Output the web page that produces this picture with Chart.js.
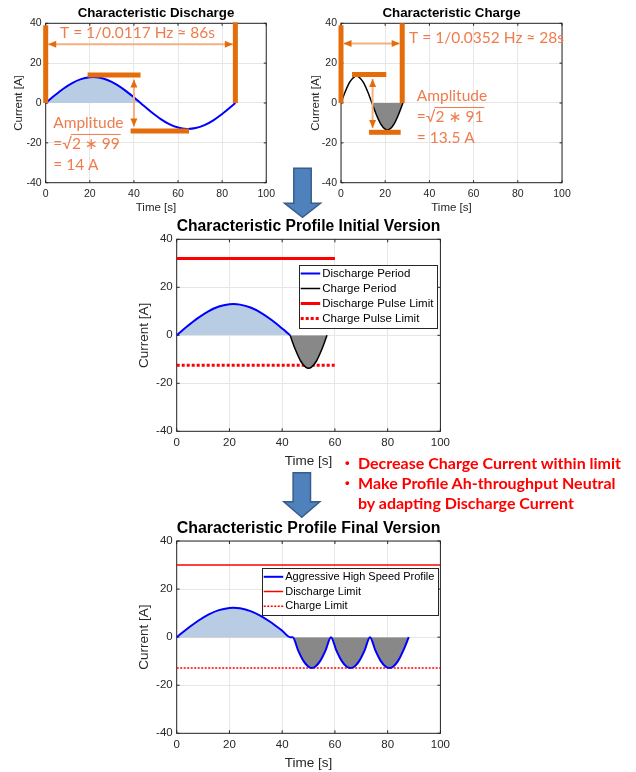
<!DOCTYPE html>
<html>
<head>
<meta charset="utf-8">
<script src="https://cdn.jsdelivr.net/npm/chart.js@4.4.1/dist/chart.umd.min.js"></script>
<style>
body{margin:0;background:#fff;}
#page{position:relative;width:636px;height:772px;overflow:hidden;background:#fff;}
canvas{position:absolute;}
#arrows{position:absolute;left:0;top:0;z-index:5;}
.note{position:absolute;left:358px;color:#ff0000;font:bold 16px Lato,"Open Sans",sans-serif;line-height:20px;white-space:nowrap;z-index:6;}
.note .dot{position:absolute;left:-13px;top:0;font:bold 13px "Liberation Sans",Arial,sans-serif;line-height:20px;}
</style>
</head>
<body>
<div id="page">
<canvas id="c1"></canvas>
<canvas id="c2"></canvas>
<canvas id="c3"></canvas>
<canvas id="c4"></canvas>
<svg id="arrows" width="636" height="772">
  <polygon points="293.8,168.3 311.2,168.3 311.2,203.3 320.5,203.3 302.5,217.3 284.5,203.3 293.8,203.3" fill="#4f81bd" stroke="#385d8a" stroke-width="1.5"/>
  <polygon points="293.1,472.7 310.5,472.7 310.5,501.7 319.8,501.7 301.8,517.3 283.8,501.7 293.1,501.7" fill="#4f81bd" stroke="#385d8a" stroke-width="1.5"/>
</svg>
<div class="note" style="top:453px"><span class="dot">•</span>Decrease Charge Current within limit</div>
<div class="note" style="top:473px"><span class="dot">•</span>Make Profile Ah-throughput Neutral</div>
<div class="note" style="top:493px">by adapting Discharge Current</div>
</div>

<script>
/* DATA */
// characteristic discharge, one full period (86 s)
const disTime = [0,4,8,12,16,20,21.5,24,28,32,36,40,43,44,48,52,56,60,64,64.5,68,72,76,80,84,86];
const disCurrent = [0,3.75,7.17,9.99,11.97,12.92,13,12.78,11.56,9.37,6.36,2.83,0,-0.95,-4.61,-7.94,-10.57,-12.3,-12.99,-13,-12.59,-11.12,-8.7,-5.52,-1.89,0];

// characteristic charge, one full period (28 s)
const chgTime = [0,2,4,6,7,8,10,12,14,16,18,20,21,22,24,26,28];
const chgCurrent = [0,5.86,10.55,13.16,13.5,13.16,10.55,5.86,0,-5.86,-10.55,-13.16,-13.5,-13.16,-10.55,-5.86,0];

// initial profile
const initDisTime = [0,4,8,12,16,20,21.5,24,28,32,36,40,43];
const initDisCurrent = [0,3.75,7.17,9.99,11.97,12.92,13,12.78,11.56,9.37,6.36,2.83,0];
const initChgTime = [43,45,47,49,50,51,53,55,57];
const initChgCurrent = [0,-5.94,-10.71,-13.36,-13.7,-13.36,-10.71,-5.94,0];
const initLimitTime = [0,60];
const initDisLimit = [32,32];
const initChgLimit = [-12.5,-12.5];

// final profile
const finalTime = [0,4,8,12,16,20,21.5,24,28,32,36,40,43,44,46,48,50,51.25,52.5,54.5,56.5,58.5,60.5,62.5,64.5,65.9,67.3,69.3,71.3,73.3,75.3,77.3,79.3,80.65,82,84,86,88];
const finalCurrent = [0,3.52,6.73,9.38,11.23,12.13,12.2,11.99,10.85,8.79,5.97,2.66,0,0,-5.37,-9.76,-12.33,-12.8,-12.33,-9.76,-5.37,0,-5.37,-9.76,-12.33,-12.8,-12.33,-9.76,-5.37,0,-5.37,-9.76,-12.33,-12.8,-12.33,-9.76,-5.37,0];
const finalLimitTime = [0,100];
const finalDisLimit = [30,30];
const finalChgLimit = [-12.8,-12.8];

const xTicks = [0,20,40,60,80,100];
const yTicks = [-40,-20,0,20,40];

/* COLORS */
const BLUE = "#0000ff", RED = "#ff0000", SHADE = "#b8cce4", GREY = "#888888";
const ORANGE = "#e46c0a", ORANGE_LIGHT = "#f4b183", ORANGE_TEXT = "#f07b4d";
const AXIS = "#262626";
const FONT = "'Liberation Sans', Arial, sans-serif";
const NOTE_FONT = "Lato, 'DejaVu Sans', sans-serif";

Chart.defaults.font.family = FONT;
Chart.defaults.color = AXIS;

/* ANNOTATIONS (data units) */
const dischargeMarks = [
  {type:"bar", x1:0, y1:0, x2:0, y2:39},
  {type:"bar", x1:86, y1:0, x2:86, y2:40.5},
  {type:"arrow", x1:0, y1:29.5, x2:86, y2:29.5},
  {type:"bar", x1:19, y1:14, x2:43, y2:14},
  {type:"bar", x1:38.5, y1:-14, x2:65, y2:-14},
  {type:"arrow", x1:40, y1:13, x2:40, y2:-13},
  {type:"text", x:6.5, y:35, text:"T = 1/0.0117 Hz \u2248 86s"},
  {type:"amp", x:3.4, y:-10, root:"2 \u2217 99", result:"= 14 A"}
];
const chargeMarks = [
  {type:"bar", x1:0, y1:0, x2:0, y2:39},
  {type:"bar", x1:27.7, y1:0, x2:27.7, y2:40},
  {type:"arrow", x1:0, y1:29.8, x2:27.7, y2:29.8},
  {type:"bar", x1:5, y1:14.3, x2:20.5, y2:14.3},
  {type:"bar", x1:12.7, y1:-14.7, x2:27, y2:-14.7},
  {type:"arrow", x1:14.3, y1:13.3, x2:14.3, y2:-13.8},
  {type:"text", x:30.8, y:32.7, text:"T = 1/0.0352 Hz \u2248 28s"},
  {type:"amp", x:34.3, y:3.5, root:"2 \u2217 91", result:"= 13.5 A"}
];

/* PLUGINS */
const framePlugin = {
  id:"frame",
  beforeDatasetsDraw(chart){
    const ctx = chart.ctx, a = chart.chartArea;
    const xs = chart.scales.x, ys = chart.scales.y;
    const tl = a.width > 240 ? 3 : 2.5;
    ctx.save();
    ctx.strokeStyle = AXIS;
    ctx.lineWidth = 1;
    ctx.strokeRect(a.left, a.top, a.width, a.height);
    ctx.beginPath();
    xTicks.forEach(v=>{
      const p = xs.getPixelForValue(v);
      ctx.moveTo(p, a.bottom); ctx.lineTo(p, a.bottom - tl);
      ctx.moveTo(p, a.top); ctx.lineTo(p, a.top + tl);
    });
    yTicks.forEach(v=>{
      const p = ys.getPixelForValue(v);
      ctx.moveTo(a.left, p); ctx.lineTo(a.left + tl, p);
      ctx.moveTo(a.right, p); ctx.lineTo(a.right - tl, p);
    });
    ctx.stroke();
    ctx.restore();
  }
};

function head(ctx, x, y, ang){
  const L = 8, W = 3.5;
  ctx.beginPath();
  ctx.moveTo(x, y);
  ctx.lineTo(x - L*Math.cos(ang) + W*Math.sin(ang), y - L*Math.sin(ang) - W*Math.cos(ang));
  ctx.lineTo(x - L*Math.cos(ang) - W*Math.sin(ang), y - L*Math.sin(ang) + W*Math.cos(ang));
  ctx.closePath();
  ctx.fill();
}

function marksPlugin(items){
  return {
    id:"marks",
    afterDatasetsDraw(chart){
      const ctx = chart.ctx, xs = chart.scales.x, ys = chart.scales.y;
      ctx.save();
      items.forEach(m=>{
        if(m.type === "bar"){
          ctx.strokeStyle = ORANGE;
          ctx.lineWidth = 5;
          ctx.beginPath();
          ctx.moveTo(xs.getPixelForValue(m.x1), ys.getPixelForValue(m.y1));
          ctx.lineTo(xs.getPixelForValue(m.x2), ys.getPixelForValue(m.y2));
          ctx.stroke();
        } else if(m.type === "arrow"){
          let x1 = xs.getPixelForValue(m.x1), y1 = ys.getPixelForValue(m.y1);
          let x2 = xs.getPixelForValue(m.x2), y2 = ys.getPixelForValue(m.y2);
          const ang = Math.atan2(y2 - y1, x2 - x1);
          x1 += 2.5*Math.cos(ang); y1 += 2.5*Math.sin(ang);
          x2 -= 2.5*Math.cos(ang); y2 -= 2.5*Math.sin(ang);
          ctx.strokeStyle = ORANGE_LIGHT;
          ctx.lineWidth = 2;
          ctx.beginPath();
          ctx.moveTo(x1, y1); ctx.lineTo(x2, y2);
          ctx.stroke();
          ctx.fillStyle = ORANGE;
          head(ctx, x2, y2, ang);
          head(ctx, x1, y1, ang + Math.PI);
        } else {
          const x = xs.getPixelForValue(m.x), y = ys.getPixelForValue(m.y);
          ctx.fillStyle = ORANGE_TEXT;
          ctx.font = "15.5px " + NOTE_FONT;
          ctx.textBaseline = "middle";
          ctx.textAlign = "left";
          if(m.type === "text"){
            ctx.fillText(m.text, x, y);
          } else {
            ctx.fillText("Amplitude", x, y);
            const y2 = y + 21;
            ctx.fillText("=\u221a" + m.root, x, y2);
            const x0 = x + ctx.measureText("=\u221a").width;
            const x1 = x + ctx.measureText("=\u221a" + m.root).width;
            ctx.strokeStyle = ORANGE_TEXT;
            ctx.lineWidth = 1;
            ctx.beginPath();
            ctx.moveTo(x0 - 1, y2 - 9.5); ctx.lineTo(x1 + 1, y2 - 9.5);
            ctx.stroke();
            ctx.fillText(m.result, x, y + 42);
          }
        }
      });
      ctx.restore();
    }
  };
}

function legendPlugin(o){
  return {
    id:"boxLegend",
    afterDraw(chart){
      const ctx = chart.ctx, a = chart.chartArea;
      const items = chart.data.datasets.filter(d=>d.label);
      ctx.save();
      ctx.font = o.size + "px " + FONT;
      const tw = Math.max(...items.map(d=>ctx.measureText(d.label).width));
      const w = 23 + tw + 4, h = items.length*o.row + 2.5;
      const x = a.right - o.right - w, y = a.top + o.top;
      ctx.fillStyle = "#fff";
      ctx.fillRect(x, y, w, h);
      ctx.strokeStyle = AXIS;
      ctx.lineWidth = 1;
      ctx.strokeRect(Math.round(x) + 0.5, Math.round(y) + 0.5, Math.round(w), Math.round(h));
      items.forEach((d,i)=>{
        const cy = y + 8.5 + i*o.row;
        ctx.strokeStyle = d.borderColor;
        ctx.lineWidth = d.borderWidth;
        ctx.setLineDash(d.borderDash || []);
        ctx.beginPath();
        ctx.moveTo(x + 1.5, cy); ctx.lineTo(x + 21, cy);
        ctx.stroke();
        ctx.setLineDash([]);
        ctx.fillStyle = "#000";
        ctx.textBaseline = "middle";
        ctx.fillText(d.label, x + 23, cy);
      });
      ctx.restore();
    }
  };
}

/* HELPERS */
function series(label, xs, ys, color, width, extra){
  return Object.assign({
    label: label,
    data: xs.map((x,i)=>({x:x, y:ys[i]})),
    borderColor: color,
    borderWidth: width,
    pointRadius: 0,
    cubicInterpolationMode: "monotone",
    fill: false
  }, extra || {});
}

function makeChart(id, box, f, title, datasets, plugins){
  const canvas = document.getElementById(id);
  canvas.width = box.width;
  canvas.height = box.height;
  canvas.style.left = box.left + "px";
  canvas.style.top = box.top + "px";

  const tLH = f.title*1.2, aLH = f.axis*1.2;
  const padLeft = box.yTitleX - box.left - aLH/2;
  const padRight = box.left + box.width - box.plot.r;
  const padBottom = box.top + box.height - (box.xTitleY + aLH/2);
  const titleTop = box.titleY - box.top - tLH/2;
  const titleBottom = box.plot.t - box.top - titleTop - tLH;
  const yWidth = box.plot.l - box.left - padLeft;
  const xHeight = box.xTitleY + aLH/2 - box.plot.b;

  return new Chart(canvas, {
    type:"line",
    data:{datasets:datasets},
    options:{
      responsive:false,
      animation:false,
      layout:{padding:{left:padLeft, right:padRight, top:0, bottom:padBottom}},
      plugins:{
        legend:{display:false},
        tooltip:{enabled:false},
        title:{display:true, text:title, fullSize:false, color:"#000",
          font:{size:f.title, weight:"bold", lineHeight:1.2},
          padding:{top:titleTop, bottom:titleBottom}}
      },
      scales:{
        x:{type:"linear", min:0, max:100,
          afterBuildTicks:s=>{ s.ticks = xTicks.map(v=>({value:v})); },
          afterFit:s=>{ s.height = xHeight; },
          grid:{color:"#e6e6e6", drawTicks:false},
          border:{display:false},
          ticks:{padding:5, color:AXIS, font:{size:f.tick}, maxRotation:0},
          title:{display:true, text:"Time [s]", color:AXIS, padding:0, font:{size:f.axis, lineHeight:1.2}}},
        y:{min:-40, max:40,
          afterBuildTicks:s=>{ s.ticks = yTicks.map(v=>({value:v})); },
          afterFit:s=>{ s.width = yWidth; },
          grid:{color:"#e6e6e6", drawTicks:false},
          border:{display:false},
          ticks:{padding:4, color:AXIS, font:{size:f.tick}},
          title:{display:true, text:"Current [A]", color:AXIS, padding:0, font:{size:f.axis, lineHeight:1.2}}}
      }
    },
    plugins:plugins
  });
}

/* CHARTS */
const smallFonts = {title:13.3, axis:11.5, tick:10.5};
const bigFonts = {title:16, axis:13.5, tick:11.5};

makeChart("c1",
  {left:0, top:0, width:280, height:216, plot:{l:45.7, t:23.3, r:266.5, b:182.7}, titleY:13, yTitleX:19, xTitleY:208},
  smallFonts, "Characteristic Discharge",
  [series("", disTime, disCurrent, BLUE, 2, {fill:{target:"origin", above:SHADE, below:"rgba(0,0,0,0)"}})],
  [framePlugin, marksPlugin(dischargeMarks)]);

makeChart("c2",
  {left:296, top:0, width:280, height:216, plot:{l:341, t:23.3, r:562, b:182.7}, titleY:13, yTitleX:315.5, xTitleY:208},
  smallFonts, "Characteristic Charge",
  [series("", chgTime, chgCurrent, "#000", 1.5, {fill:{target:"origin", above:"rgba(0,0,0,0)", below:GREY}})],
  [framePlugin, marksPlugin(chargeMarks)]);

makeChart("c3",
  {left:125, top:205, width:330, height:266, plot:{l:176.7, t:239.3, r:441, b:431.3}, titleY:227, yTitleX:144, xTitleY:461.7},
  bigFonts, "Characteristic Profile Initial Version",
  [
    series("Discharge Period", initDisTime, initDisCurrent, BLUE, 2, {fill:{target:"origin", above:SHADE, below:"rgba(0,0,0,0)"}}),
    series("Charge Period", initChgTime, initChgCurrent, "#000", 1.5, {fill:{target:"origin", above:"rgba(0,0,0,0)", below:GREY}}),
    series("Discharge Pulse Limit", initLimitTime, initDisLimit, RED, 3),
    series("Charge Pulse Limit", initLimitTime, initChgLimit, RED, 3, {borderDash:[3,2]})
  ],
  [framePlugin, legendPlugin({size:11.5, row:15, top:25.7, right:3})]);

makeChart("c4",
  {left:125, top:506, width:330, height:266, plot:{l:176.7, t:541, r:441, b:733.3}, titleY:529, yTitleX:144, xTitleY:763.3},
  bigFonts, "Characteristic Profile Final Version",
  [
    series("Aggressive High Speed Profile", finalTime, finalCurrent, BLUE, 2, {fill:{target:"origin", above:SHADE, below:GREY}}),
    series("Discharge Limit", finalLimitTime, finalDisLimit, RED, 1.5),
    series("Charge Limit", finalLimitTime, finalChgLimit, RED, 1.5, {borderDash:[2,1.5]})
  ],
  [framePlugin, legendPlugin({size:11, row:14.7, top:27.3, right:2})]);
</script>
</body>
</html>
